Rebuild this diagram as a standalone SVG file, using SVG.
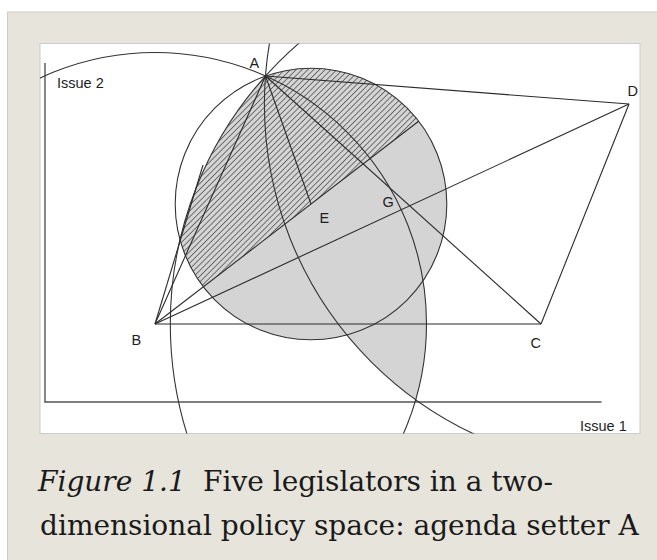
<svg xmlns="http://www.w3.org/2000/svg" xmlns:xlink="http://www.w3.org/1999/xlink" width="657" height="560" viewBox="0 0 657 560">
  <style>
    .ln { fill: none; stroke: #2b2b2b; stroke-width: 1.1; }
    .circ { fill: none; stroke: #333; stroke-width: 1.1; }
    .axis { fill: none; stroke: #555; stroke-width: 1.4; }
    .lbl { font-family: "Liberation Sans", Arial, sans-serif; font-size: 14.5px; fill: #1e1e1e; }
    .cap { font-family: "DejaVu Serif", serif; font-size: 28px; fill: #1a1a1a; }
  </style>
  <defs>
    <clipPath id="box"><rect x="40" y="43.5" width="600" height="390"/></clipPath>
    <clipPath id="cB"><circle cx="155" cy="324" r="271.5"/></clipPath>
    <clipPath id="cC"><circle cx="541" cy="324" r="370.7"/></clipPath>
    <clipPath id="cD"><circle cx="629" cy="104" r="364.6"/></clipPath>
    <clipPath id="cE"><circle cx="311" cy="204" r="135.8"/></clipPath>
    <clipPath id="half"><polygon points="0,443.2 700,-95.2 0,-95.2"/></clipPath>
    <pattern id="hatch" patternUnits="userSpaceOnUse" width="4.1" height="8" patternTransform="rotate(45)">
      <line x1="0" y1="-1" x2="0" y2="9" stroke="#333" stroke-width="1.25"/>
    </pattern>
    <mask id="win" maskUnits="userSpaceOnUse" x="0" y="0" width="657" height="560">
      <g fill="#fff">
        <g clip-path="url(#cB)"><g clip-path="url(#cC)"><rect clip-path="url(#cD)" x="40" y="43.5" width="600" height="390"/></g></g>
        <g clip-path="url(#cB)"><g clip-path="url(#cC)"><rect clip-path="url(#cE)" x="40" y="43.5" width="600" height="390"/></g></g>
        <g clip-path="url(#cB)"><g clip-path="url(#cD)"><rect clip-path="url(#cE)" x="40" y="43.5" width="600" height="390"/></g></g>
        <g clip-path="url(#cC)"><g clip-path="url(#cD)"><rect clip-path="url(#cE)" x="40" y="43.5" width="600" height="390"/></g></g>
      </g>
    </mask>
  </defs>

  <!-- page frame -->
  <rect x="0" y="0" width="657" height="560" fill="#ffffff"/>
  <rect x="7.5" y="12" width="660" height="560" fill="#e6e4db" stroke="#cdcdcd" stroke-width="1"/>
  <rect x="40" y="43.5" width="600" height="390" fill="#ffffff" stroke="#cccccc" stroke-width="1"/>

  <g id="figure" clip-path="url(#box)">
    <!-- win-set shading -->
    <g id="winset">
      <rect x="40" y="43.5" width="600" height="390" fill="#d4d4d4" mask="url(#win)"/>
      <g clip-path="url(#half)">
        <rect x="40" y="43.5" width="600" height="390" fill="url(#hatch)" mask="url(#win)"/>
      </g>
    </g>

    <!-- axes -->
    <g id="axes">
      <line class="axis" x1="45" y1="63" x2="45" y2="402"/>
      <line class="axis" x1="44.3" y1="402" x2="601.5" y2="402"/>
    </g>

    <!-- indifference circles -->
    <g id="circles">
      <circle id="circle-B" class="circ" cx="155" cy="324" r="271.5"/>
      <circle id="circle-C" class="circ" cx="541" cy="324" r="370.7"/>
      <circle id="circle-D" class="circ" cx="629" cy="104" r="364.6"/>
      <circle id="circle-E" class="circ" cx="311" cy="204" r="135.8"/>
    </g>

    <!-- connectors -->
    <g id="connectors">
      <line class="ln" x1="265.5" y1="76" x2="629" y2="104"/>
      <line class="ln" x1="265.5" y1="76" x2="155" y2="324"/>
      <line class="ln" x1="265.5" y1="76" x2="541" y2="324"/>
      <line class="ln" x1="265.5" y1="76" x2="311" y2="204"/>
      <line class="ln" x1="155" y1="324" x2="541" y2="324"/>
      <line class="ln" x1="155" y1="324" x2="629" y2="104"/>
      <line class="ln" x1="541" y1="324" x2="629" y2="104"/>
      <line class="ln" x1="155" y1="324" x2="418.6" y2="121.2"/>
      <line class="ln" x1="155" y1="324" x2="203" y2="165"/>
    </g>

    <!-- labels -->
    <g id="node-A"><text class="lbl" x="249.5" y="68">A</text></g>
    <g id="node-B"><text class="lbl" x="131.5" y="345">B</text></g>
    <g id="node-C"><text class="lbl" x="530.5" y="347.5">C</text></g>
    <g id="node-D"><text class="lbl" x="627.5" y="95.5">D</text></g>
    <g id="node-E"><text class="lbl" x="319.5" y="222.5">E</text></g>
    <g id="node-G"><text class="lbl" x="382.5" y="206.5">G</text></g>
    <g id="axis-labels">
      <text class="lbl" x="57" y="88">Issue 2</text>
      <text class="lbl" x="580" y="430.5">Issue 1</text>
    </g>
  </g>

  <!-- caption -->
  <g id="caption">
    <text class="cap" x="38" y="491"><tspan font-style="italic">Figure 1.1</tspan><tspan x="203">Five legislators in a two-</tspan></text>
    <text class="cap" x="40" y="535">dimensional policy space: agenda setter A</text>
  </g>
</svg>
